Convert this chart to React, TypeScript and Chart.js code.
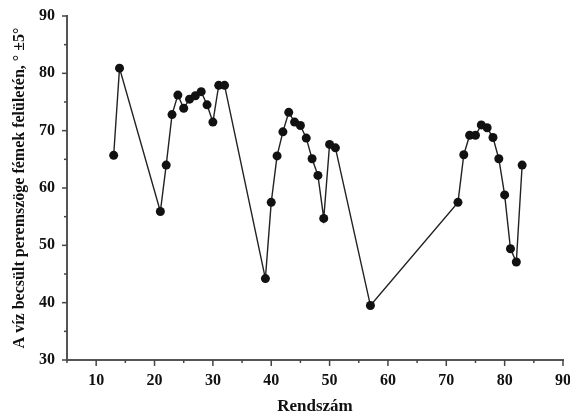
import React, { useEffect, useRef } from "react";
import { Chart, registerables } from "chart.js";

Chart.register(...registerables);

const rendszam: number[] = [
  13, 14, 21, 22, 23, 24, 25, 26, 27, 28, 29, 30, 31, 32,
  39, 40, 41, 42, 43, 44, 45, 46, 47, 48, 49, 50, 51, 57,
  72, 73, 74, 75, 76, 77, 78, 79, 80, 81, 82, 83,
];
const peremszog: number[] = [
  65.7, 80.9, 55.9, 64.0, 72.8, 76.2, 73.9, 75.5, 76.1, 76.8, 74.5, 71.5, 77.9, 77.9,
  44.2, 57.5, 65.6, 69.8, 73.2, 71.5, 70.9, 68.7, 65.1, 62.2, 54.7, 67.6, 67.0, 39.5,
  57.5, 65.8, 69.2, 69.2, 71.0, 70.5, 68.8, 65.1, 58.8, 49.4, 47.1, 64.0,
];
const xTickLabels: number[] = [10, 20, 30, 40, 50, 60, 70, 80, 90];
const yTickLabels: number[] = [30, 40, 50, 60, 70, 80, 90];
const xTitle = "Rendszám";
const yTitle = "A víz becsült peremszöge fémek felületén, ° ±5°";

const FONT = "'Liberation Serif', 'Times New Roman', serif";

const tickPlugin = {
  id: "manualTicks",
  afterDraw(chart: any) {
    const ctx = chart.ctx;
    const xs = chart.scales.x;
    const ys = chart.scales.y;
    const area = chart.chartArea;
    ctx.save();
    ctx.strokeStyle = "#444";
    ctx.lineWidth = 1.5;
    const drawX = (v: number, len: number) => {
      const p = xs.getPixelForValue(v);
      ctx.beginPath();
      ctx.moveTo(p, area.bottom);
      ctx.lineTo(p, area.bottom + len);
      ctx.stroke();
    };
    const drawY = (v: number, len: number) => {
      const p = ys.getPixelForValue(v);
      ctx.beginPath();
      ctx.moveTo(area.left, p);
      ctx.lineTo(area.left - len, p);
      ctx.stroke();
    };
    xTickLabels.forEach((v) => drawX(v, 6));
    for (let i = 0; i < xTickLabels.length; i++) {
      const m = xTickLabels[i] - 5;
      if (m >= xs.min) drawX(m, 3);
    }
    yTickLabels.forEach((v) => drawY(v, 5));
    for (let i = 0; i < yTickLabels.length - 1; i++) {
      drawY((yTickLabels[i] + yTickLabels[i + 1]) / 2, 3);
    }
    ctx.restore();
  },
};

export default function App() {
  const ref = useRef<HTMLCanvasElement | null>(null);
  useEffect(() => {
    if (!ref.current) return;
    const chart = new Chart(ref.current, {
      type: "scatter",
      data: {
        datasets: [
          {
            data: rendszam.map((x, i) => ({ x, y: peremszog[i] })),
            showLine: true,
            borderColor: "#222",
            borderWidth: 1.4,
            pointRadius: 4.5,
            pointBackgroundColor: "#111",
            pointBorderColor: "#111",
            pointBorderWidth: 0,
          },
        ],
      },
      plugins: [tickPlugin],
      options: {
        animation: false,
        responsive: false,
        layout: { padding: { left: 0, top: 16, right: 7, bottom: 0 } },
        plugins: { legend: { display: false }, tooltip: { enabled: false } },
        scales: {
          x: {
            type: "linear",
            min: 5,
            max: 90,
            grid: { display: false, drawTicks: false },
            border: { display: true, color: "#555", width: 2 },
            afterBuildTicks: (scale: any) => {
              scale.ticks = xTickLabels.map((v) => ({ value: v }));
            },
            afterFit: (scale: any) => {
              scale.height = 59;
              scale.paddingLeft = 0;
              scale.paddingRight = 0;
            },
            ticks: {
              autoSkip: false,
              maxRotation: 0,
              padding: 11,
              color: "#111",
              font: { family: FONT, size: 16, weight: "bold" },
            },
            title: {
              display: true,
              text: xTitle,
              color: "#111",
              padding: { top: 0, bottom: 2 },
              font: { family: FONT, size: 17, weight: "bold" },
            },
          },
          y: {
            type: "linear",
            min: 30,
            max: 90,
            grid: { display: false, drawTicks: false },
            border: { display: true, color: "#555", width: 2 },
            afterBuildTicks: (scale: any) => {
              scale.ticks = yTickLabels.map((v) => ({ value: v }));
            },
            afterFit: (scale: any) => {
              scale.width = 67;
              scale.paddingTop = 0;
              scale.paddingBottom = 0;
            },
            ticks: {
              padding: 12,
              color: "#111",
              font: { family: FONT, size: 16, weight: "bold" },
            },
            title: {
              display: true,
              text: yTitle,
              color: "#111",
              padding: { top: 10, bottom: 0 },
              font: { family: FONT, size: 16, weight: "bold" },
            },
          },
        },
      },
    } as any);
    return () => chart.destroy();
  }, []);
  return (
    <div style={{ position: "fixed", left: 0, top: 0, width: 570, height: 419, background: "#fff" }}>
      <canvas ref={ref} width={570} height={419} />
    </div>
  );
}
